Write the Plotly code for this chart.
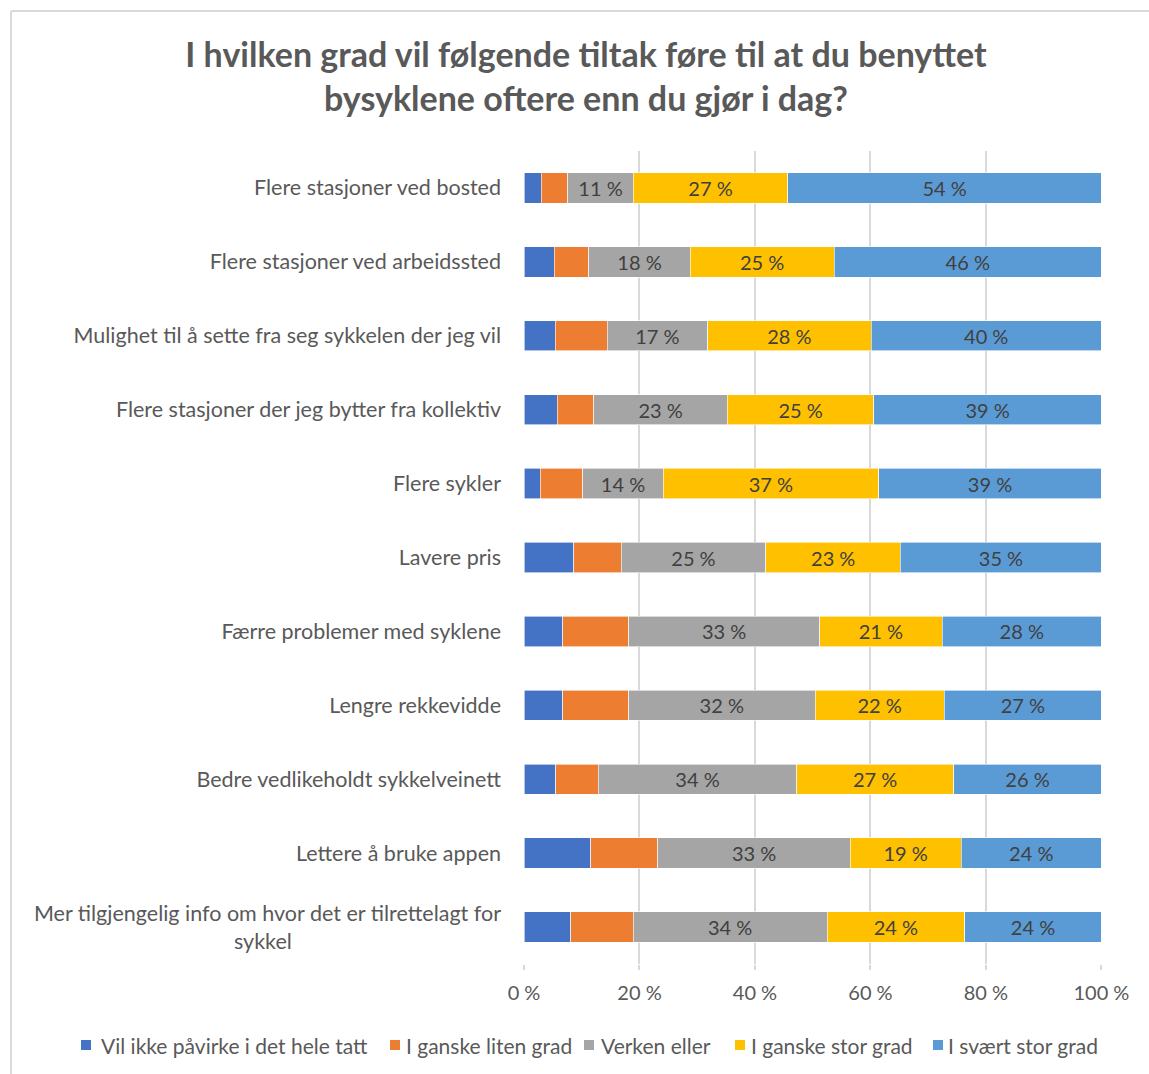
import plotly.graph_objects as go

# Survey measures (top to bottom)
categories = [
    "Flere stasjoner ved bosted",
    "Flere stasjoner ved arbeidssted",
    "Mulighet til å sette fra seg sykkelen der jeg vil",
    "Flere stasjoner der jeg bytter fra kollektiv",
    "Flere sykler",
    "Lavere pris",
    "Færre problemer med syklene",
    "Lengre rekkevidde",
    "Bedre vedlikeholdt sykkelveinett",
    "Lettere å bruke appen",
    "Mer tilgjengelig info om hvor det er tilrettelagt for<br>sykkel" + "\u00a0" * 38,
]

# Share of respondents (%) per answer option
vil_ikke = [3.0, 5.2, 5.4, 5.8, 2.8, 8.6, 6.7, 6.7, 5.5, 11.6, 8.1]
liten_grad = [4.6, 6.0, 9.0, 6.3, 7.4, 8.2, 11.4, 11.4, 7.4, 11.6, 10.8]
verken_eller = [11.3, 17.6, 17.4, 23.1, 13.9, 25.1, 33.1, 32.3, 34.3, 33.3, 33.6]
ganske_stor = [26.8, 24.9, 28.3, 25.4, 37.3, 23.3, 21.2, 22.4, 27.2, 19.2, 23.8]
svaert_stor = [54.3, 46.3, 39.9, 39.4, 38.6, 34.8, 27.6, 27.2, 25.6, 24.3, 23.7]

series = [
    ("Vil ikke påvirke i det hele tatt", vil_ikke, "#4472C4", False),
    ("I ganske liten grad", liten_grad, "#ED7D31", False),
    ("Verken eller", verken_eller, "#A5A5A5", True),
    ("I ganske stor grad", ganske_stor, "#FFC000", True),
    ("I svært stor grad", svaert_stor, "#5B9BD5", True),
]

tick_vals = [0, 20, 40, 60, 80, 100]
tick_text = ["0 %", "20 %", "40 %", "60 %", "80 %", "100 %"]

FONT = "Lato, sans-serif"

fig = go.Figure()
for name, vals, color, labelled in series:
    fig.add_trace(go.Bar(
        name=name,
        y=categories,
        x=vals,
        orientation="h",
        marker=dict(color=color, line=dict(color="white", width=0.6)),
        texttemplate="%{x:.0f} %" if labelled else None,
        textposition="inside" if labelled else "none",
        insidetextanchor="middle",
        textfont=dict(family=FONT, size=20, color="#404040"),
        textangle=0,
        width=0.41,
        showlegend=False,
        hoverinfo="skip",
    ))

L, R, T, B = 524, 47, 151, 110
PW, PH = 1149 - L - R, 1074 - T - B


def px(x):
    return (x - L) / PW


def py(y):
    return (1074 - B - y) / PH


# Frame around the chart area (top and left edges)
shapes = [
    dict(type="line", xref="paper", yref="paper",
         x0=px(11), x1=px(1149), y0=py(11), y1=py(11),
         line=dict(color="#D9D9D9", width=2)),
    dict(type="line", xref="paper", yref="paper",
         x0=px(11), x1=px(11), y0=py(11), y1=py(1074),
         line=dict(color="#D9D9D9", width=2)),
]
annotations = []

# Single-row key below the axis: square swatch followed by the series name
key_swatch_x = [81, 390, 584, 735, 933]
key_text_x = [99, 404, 599, 749, 946]
key_y = 1045
for (name, _, color, _), sx, tx in zip(series, key_swatch_x, key_text_x):
    shapes.append(dict(
        type="rect", xref="paper", yref="paper",
        x0=px(sx), x1=px(sx + 10), y0=py(key_y - 5), y1=py(key_y + 5),
        fillcolor=color, line=dict(width=0),
    ))
    annotations.append(dict(
        text=name, xref="paper", yref="paper",
        x=px(tx), y=py(key_y), xanchor="left", yanchor="middle",
        showarrow=False,
        font=dict(family=FONT, size=21, color="#595959"),
    ))

fig.update_layout(
    barmode="stack",
    width=1149,
    height=1074,
    margin=dict(l=L, r=R, t=T, b=B, autoexpand=False),
    paper_bgcolor="white",
    plot_bgcolor="white",
    font=dict(family=FONT, color="#595959"),
    showlegend=False,
    title=dict(
        text="<b>I hvilken grad vil følgende tiltak føre til at du benyttet<br>bysyklene oftere enn du gjør i dag?</b>",
        x=0.51, xanchor="center",
        y=1 - 67 / 1074, yanchor="middle", yref="container",
        font=dict(family=FONT, size=34, color="#595959"),
    ),
    xaxis=dict(
        range=[0, 100.1],
        tickvals=tick_vals,
        ticktext=tick_text,
        showgrid=True,
        gridcolor="#D9D9D9",
        gridwidth=2,
        zeroline=False,
        showline=False,
        ticks="outside",
        ticklen=5,
        tickcolor="#D9D9D9",
        tickwidth=2,
        ticklabelstandoff=6,
        tickfont=dict(family=FONT, size=20, color="#595959"),
        fixedrange=True,
    ),
    yaxis=dict(
        autorange="reversed",
        showgrid=False,
        ticks="",
        ticklabelstandoff=22,
        tickfont=dict(family=FONT, size=21.5, color="#595959"),
        fixedrange=True,
    ),
    shapes=shapes,
    annotations=annotations,
)

fig.write_html("out.html")
